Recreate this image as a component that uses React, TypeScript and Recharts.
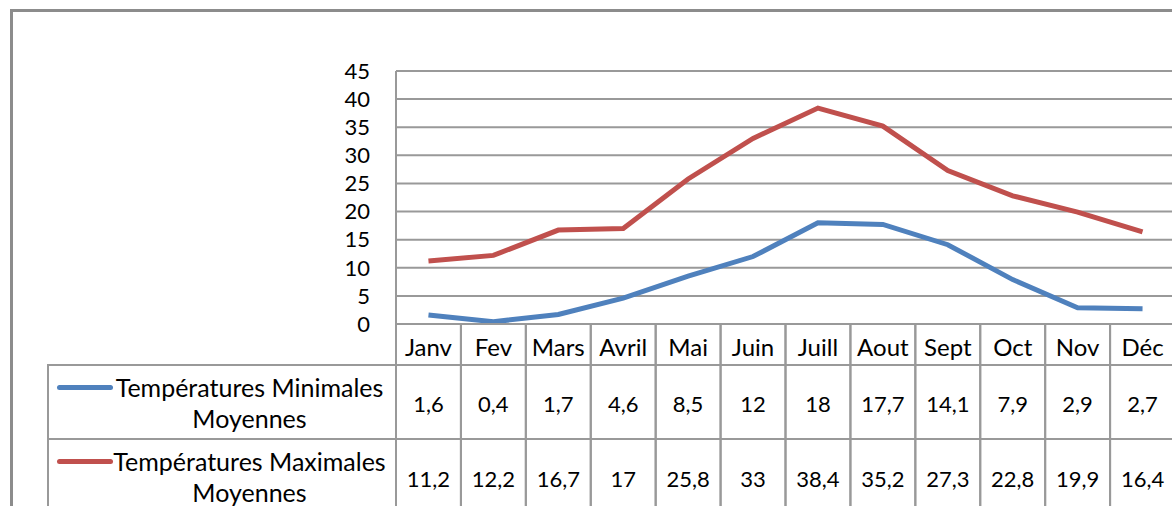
import React from "react";
import { LineChart, Line, XAxis, YAxis, CartesianGrid } from "recharts";

const months = ["Janv", "Fev", "Mars", "Avril", "Mai", "Juin", "Juill", "Aout", "Sept", "Oct", "Nov", "Déc"];
const minTemps = [1.6, 0.4, 1.7, 4.6, 8.5, 12, 18, 17.7, 14.1, 7.9, 2.9, 2.7];
const maxTemps = [11.2, 12.2, 16.7, 17, 25.8, 33, 38.4, 35.2, 27.3, 22.8, 19.9, 16.4];
const yTicks = [0, 5, 10, 15, 20, 25, 30, 35, 40, 45];
const seriesNames = ["Températures Minimales Moyennes", "Températures Maximales Moyennes"];

const BLUE = "#4F81BD";
const RED = "#C0504D";
const GRID = "#999";
const FONT = "Lato, 'Open Sans', sans-serif";

const data = months.map((m, i) => ({ month: m, min: minTemps[i], max: maxTemps[i] }));
const seriesKeys = [
  { key: "min", name: seriesNames[0], color: BLUE, values: minTemps },
  { key: "max", name: seriesNames[1], color: RED, values: maxTemps },
];

// layout
const W = 1180;
const H = 506;
const PLOT_LEFT = 396;
const PLOT_RIGHT = 1175;
const COL = (PLOT_RIGHT - PLOT_LEFT) / months.length;
const ROW_HEADER = 365;
const ROW_SPLIT = 439;

const fmt = (v: number) => String(v).replace(".", ",");

// the data table under the axis, one column per category tick
const TableTick = (props: any) => {
  const { x, y, payload } = props;
  const i = payload.index;
  const l = x - COL / 2;
  const r = x + COL / 2;
  return (
    <g>
      <line x1={l} y1={y} x2={l} y2={H} stroke={GRID} strokeWidth={2} />
      <line x1={r} y1={y} x2={r} y2={H} stroke={GRID} strokeWidth={2} />
      <line x1={l} y1={ROW_HEADER} x2={r} y2={ROW_HEADER} stroke={GRID} strokeWidth={2} />
      <line x1={l} y1={ROW_SPLIT} x2={r} y2={ROW_SPLIT} stroke={GRID} strokeWidth={2} />
      <text x={x} y={346} textAnchor="middle" dominantBaseline="central" fontSize={24} fontFamily={FONT} fill="#000">
        {payload.value}
      </text>
      {seriesKeys.map((s, k) => (
        <text key={s.key} x={x} y={k === 0 ? 403 : 478} textAnchor="middle" dominantBaseline="central" fontSize={22} fontFamily={FONT} fill="#000">
          {fmt(s.values[i])}
        </text>
      ))}
    </g>
  );
};

const LegendColumn = () => (
  <div style={{ position: "absolute", left: 47, top: ROW_HEADER - 1, width: PLOT_LEFT - 47, fontFamily: FONT, fontSize: 25 }}>
    {seriesKeys.map((s) => {
      const words = s.name.split(" ");
      return (
        <div
          key={s.key}
          style={{
            position: "relative",
            height: ROW_SPLIT - ROW_HEADER,
            borderTop: `2px solid ${GRID}`,
            borderLeft: `2px solid ${GRID}`,
            boxSizing: "border-box",
          }}
        >
          <div style={{ position: "absolute", left: 8, top: 19, width: 56, height: 5, borderRadius: 3, background: s.color }} />
          <div style={{ position: "absolute", left: 54, right: 0, top: 6, textAlign: "center", lineHeight: "31px", color: "#000", whiteSpace: "nowrap" }}>
            {words.slice(0, 2).join(" ")}
            <br />
            {words.slice(2).join(" ")}
          </div>
        </div>
      );
    })}
  </div>
);

export default function App() {
  return (
    <div style={{ position: "absolute", left: 0, top: 0, width: 1172, height: H, overflow: "hidden", background: "#fff" }}>
      <div style={{ position: "absolute", left: 10, top: 9, width: 1200, height: 600, border: `3px solid #8c8c8c`, boxSizing: "border-box" }} />
      <div style={{ position: "absolute", left: 0, top: 0 }}>
        <LineChart width={W} height={H} data={data} margin={{ top: 71, right: W - PLOT_RIGHT, bottom: 0, left: PLOT_LEFT - 60 }}>
          <CartesianGrid vertical={false} stroke={GRID} strokeWidth={2} />
          <XAxis
            dataKey="month"
            height={H - 324}
            interval={0}
            tickSize={0}
            tickMargin={0}
            padding={{ left: COL / 2, right: COL / 2 }}
            axisLine={{ stroke: GRID, strokeWidth: 2 }}
            tick={<TableTick />}
          />
          <YAxis
            width={60}
            domain={[0, 45]}
            ticks={yTicks}
            interval={0}
            tickSize={0}
            tickMargin={26}
            axisLine={{ stroke: GRID, strokeWidth: 2 }}
            tick={{ fontSize: 22, fontFamily: FONT, fill: "#000" }}
          />
          {seriesKeys.map((s) => (
            <Line
              key={s.key}
              dataKey={s.key}
              name={s.name}
              stroke={s.color}
              strokeWidth={5}
              dot={false}
              type="linear"
              isAnimationActive={false}
            />
          ))}
        </LineChart>
      </div>
      <LegendColumn />
    </div>
  );
}
